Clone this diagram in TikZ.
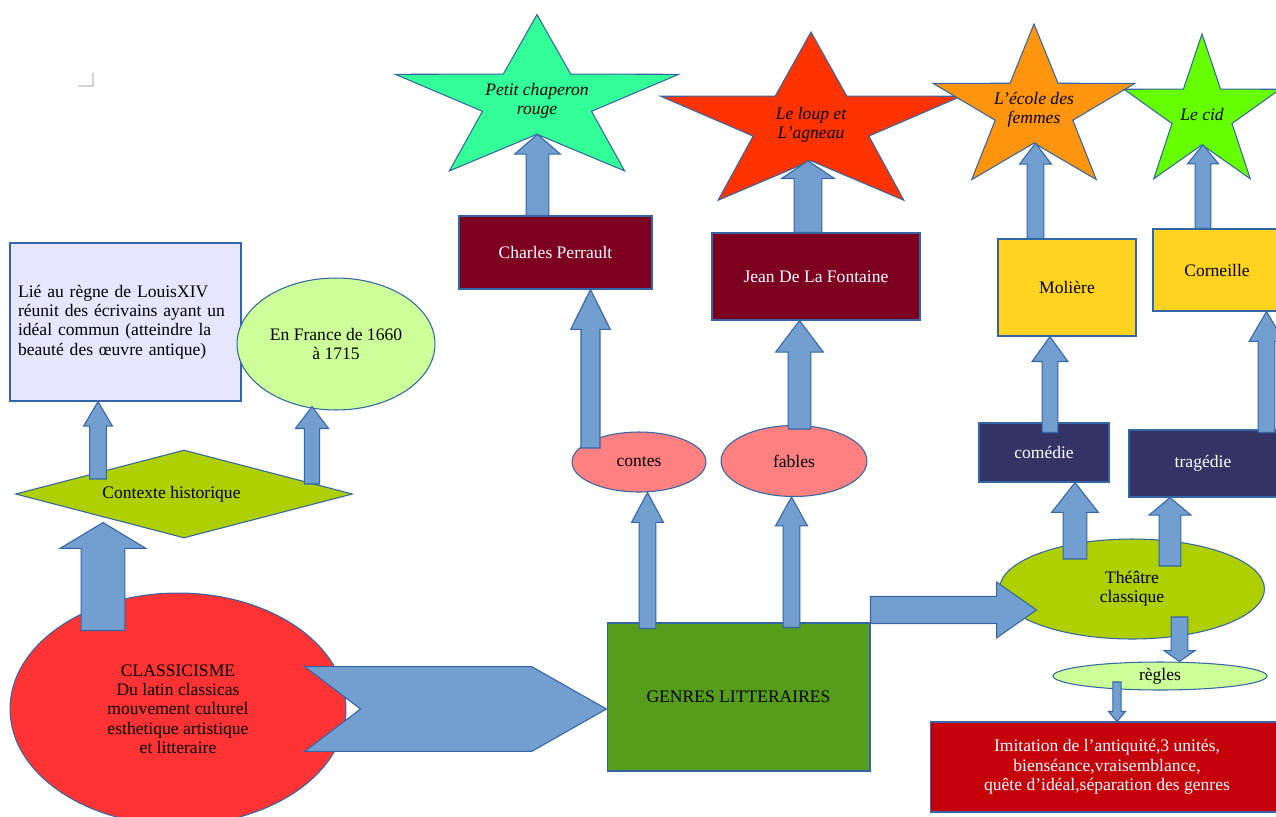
\documentclass[tikz,border=0pt]{standalone}
\usepackage{fontspec}
\setmainfont{Liberation Serif}
\usetikzlibrary{positioning, shapes.geometric, calc}

\definecolor{lineblue}{HTML}{3465A4}
\definecolor{arrowblue}{HTML}{729FCF}
\definecolor{boxlavender}{HTML}{E6E6FF}
\definecolor{lightlime}{HTML}{CCFF99}
\definecolor{ctxgreen}{HTML}{AECF00}
\definecolor{classicred}{HTML}{FF3333}
\definecolor{genresgreen}{HTML}{579D1C}
\definecolor{genrepink}{HTML}{FF8080}
\definecolor{authorred}{HTML}{7E0021}
\definecolor{kindnavy}{HTML}{333366}
\definecolor{authoryellow}{HTML}{FFD320}
\definecolor{rulesred}{HTML}{C5000B}
\definecolor{stargreen}{HTML}{33FF99}
\definecolor{starred}{HTML}{FF3300}
\definecolor{starorange}{HTML}{FF950E}
\definecolor{starlime}{HTML}{66FF00}

\tikzset{
  edged/.style={draw=lineblue, line width=0.6pt},
  blockarrow/.style={draw=lineblue, fill=arrowblue, line width=0.6pt},
  % block arrows: half shaft, half head, head length (pt)
  fatup/.style n args={3}{to path={let \p1=(\tikztostart), \p2=(\tikztotarget) in
    (\x1-#1pt,\y1) -- (\x1-#1pt,\y2-#3pt) -- (\x1-#2pt,\y2-#3pt) -- (\x1,\y2)
    -- (\x1+#2pt,\y2-#3pt) -- (\x1+#1pt,\y2-#3pt) -- (\x1+#1pt,\y1) -- cycle}},
  fatdown/.style n args={3}{to path={let \p1=(\tikztostart), \p2=(\tikztotarget) in
    (\x1-#1pt,\y1) -- (\x1-#1pt,\y2+#3pt) -- (\x1-#2pt,\y2+#3pt) -- (\x1,\y2)
    -- (\x1+#2pt,\y2+#3pt) -- (\x1+#1pt,\y2+#3pt) -- (\x1+#1pt,\y1) -- cycle}},
  fatright/.style n args={3}{to path={let \p1=(\tikztostart), \p2=(\tikztotarget) in
    (\x1,\y1+#1pt) -- (\x2-#3pt,\y1+#1pt) -- (\x2-#3pt,\y1+#2pt) -- (\x2,\y1)
    -- (\x2-#3pt,\y1-#2pt) -- (\x2-#3pt,\y1-#1pt) -- (\x1,\y1-#1pt) -- cycle}},
  notcharrow/.style n args={3}{to path={let \p1=(\tikztostart), \p2=(\tikztotarget) in
    (\x1,\y1) -- (\x1-#1pt,\y1+#2pt) -- (\x2-#3pt,\y1+#2pt) -- (\x2,\y1)
    -- (\x2-#3pt,\y1-#2pt) -- (\x1-#1pt,\y1-#2pt) -- cycle}},
}

% star: name, x, y, x radius, y radius, colour, text
\newcommand{\drawstar}[7]{%
  \filldraw[edged, fill=#6] plot[samples at={0,...,9}, variable=\k]
    ({#2+#4*cos(-90+36*\k)*(1-0.615*mod(\k,2))},{#3+#5*sin(-90+36*\k)*(1-0.615*mod(\k,2))}) -- cycle;
  \node[font=\fontsize{10}{11}\selectfont\itshape] (#1) at (#2,#3) {#7};
  \coordinate (#1-in) at (#2,{#3+0.385*#5});
}

\begin{document}
\begin{tikzpicture}[x=0.02cm, y=-0.02cm, every node/.style={font=\fontsize{10}{11}\selectfont, align=center, inner sep=0pt}]
  \useasboundingbox (0,0) rectangle (1276,816);
  \draw[gray!35, line width=0.8pt] (78,86) -- (93,86) -- (93,73);
  % Contexte
  \node[edged, minimum width=4.62cm, minimum height=3.16cm, fill=boxlavender, text width=4.3cm, align=left] (ctxbox) at (125.5,322) {Lié au règne de LouisXIV\\réunit des écrivains ayant un\\idéal commun (atteindre la\\beauté des œuvre antique)};
  \node[edged, ellipse, minimum width=3.96cm, minimum height=2.64cm, fill=lightlime] (france) at (336,344) {En France de 1660\\à 1715};
  \node[edged, diamond, aspect=3.8, minimum width=6.74cm, minimum height=1.76cm, fill=ctxgreen] (ctx) at (184,494) {Contexte historique\hspace*{0.5cm}};
  \node[edged, ellipse, minimum width=6.72cm, minimum height=4.64cm, fill=classicred] (classic) at (178,709) {CLASSICISME\\Du latin classicas\\mouvement culturel\\esthetique artistique\\et litteraire};
  \coordinate (notch) at ($(classic.east)+(14,0)$);
  % Genres
  \node[edged, minimum width=5.26cm, minimum height=2.96cm, fill=genresgreen] (genres) at (738.5,697) {GENRES LITTERAIRES};
  \node[edged, ellipse, minimum width=2.68cm, minimum height=1.2cm, fill=genrepink] (contes) at (639,462) {contes};
  \node[edged, ellipse, minimum width=2.92cm, minimum height=1.42cm, fill=genrepink] (fables) at (794,461) {fables};
  \node[edged, minimum width=3.86cm, minimum height=1.46cm, fill=authorred, text=white] (perrault) at (555.5,252.5) {Charles Perrault};
  \node[edged, minimum width=4.16cm, minimum height=1.74cm, fill=authorred, text=white] (fontaine) at (816,276.5) {Jean De La Fontaine};
  % Theatre
  \node[edged, ellipse, minimum width=5.3cm, minimum height=2cm, fill=ctxgreen] (theatre) at (1132,589) {Théâtre\\classique};
  \node[edged, minimum width=2.6cm, minimum height=1.18cm, fill=kindnavy, text=white] (comedie) at (1044,452.5) {comédie};
  \node[edged, minimum width=2.96cm, minimum height=1.34cm, fill=kindnavy, text=white] (tragedie) at (1203,463.5) {tragédie};
  \node[edged, minimum width=2.76cm, minimum height=1.94cm, fill=authoryellow] (moliere) at (1067,287.5) {Molière};
  \node[edged, minimum width=2.56cm, minimum height=1.64cm, fill=authoryellow] (corneille) at (1217,270) {Corneille};
  \node[edged, ellipse, minimum width=4.28cm, minimum height=0.56cm, fill=lightlime] (regles) at (1160,676) {règles};
  \node[edged, minimum width=7.08cm, minimum height=1.8cm, fill=rulesred, text=white] (imitation) at (1107,767) {Imitation de l'antiquité,3 unités,\\bienséance,vraisemblance,\\quête d'idéal,séparation des genres};
  % Stars
  \drawstar{chaperon}{537}{101}{149}{86.4}{stargreen}{Petit chaperon\\rouge}
  \drawstar{loup}{811}{125}{158}{93}{starred}{Le loup et\\L'agneau}
  \drawstar{ecole}{1034}{110}{106}{86}{starorange}{L'école des\\femmes}
  \drawstar{cid}{1202}{114}{82}{80}{starlime}{Le cid}
  % Arrows
  \draw[blockarrow, fatup={12.5}{24.4}{14.7}] ($(classic.north)+(-75,38)$) to ($(ctx.south)+(0,-16)$);
  \draw[blockarrow, fatup={4.8}{8.2}{14}] ($(ctx.center)+(-86,-15)$) to (ctxbox.south);
  \draw[blockarrow, fatup={4.3}{9.4}{12.5}] ($(ctx.center)+(128,-10)$) to ($(france.south)+(0,-4)$);
  \draw[blockarrow, notcharrow={31.7}{24.1}{42.5}] (notch) to (genres.west |- notch);
  \draw[blockarrow, fatup={4.8}{9.1}{17}] ($(genres.north)+(-91,6)$) to (contes.south);
  \draw[blockarrow, fatup={4.8}{9.1}{16.4}] ($(genres.north)+(53,5)$) to (fables.south);
  \draw[blockarrow, fatup={5.4}{11.3}{22.7}] ($(contes.center)+(-48.5,-14)$) to (perrault.south);
  \draw[blockarrow, fatup={6.5}{13.6}{18}] ($(fables.center)+(5.5,-32)$) to (fontaine.south);
  \draw[blockarrow, fatup={6.5}{13}{11.3}] ($(perrault.north)+(-18,0)$) to (chaperon-in);
  \draw[blockarrow, fatup={7.9}{15}{10}] ($(fontaine.north)+(-8,0)$) to (loup-in);
  \draw[blockarrow, fatup={4.8}{9.1}{12}] ($(moliere.north)+(-31.5,0)$) to (ecole-in);
  \draw[blockarrow, fatup={4.5}{8.8}{10.8}] ($(corneille.north)+(-14,0)$) to (cid-in);
  \draw[blockarrow, fatup={4.5}{10.2}{14.2}] ($(comedie.north)+(6,10)$) to (moliere.south);
  \draw[blockarrow, fatup={4.8}{9.9}{17}] ($(tragedie.north)+(63.5,3)$) to (corneille.south);
  \draw[blockarrow, fatup={6.8}{13.3}{17}] ($(theatre.center)+(-57,-30)$) to (comedie.south);
  \draw[blockarrow, fatup={6.2}{11.9}{10}] ($(theatre.center)+(38,-23)$) to (tragedie.south);
  \draw[blockarrow, fatdown={4.8}{8.8}{6.2}] ($(theatre.center)+(47.5,28)$) to (regles.north);
  \draw[blockarrow, fatdown={2.3}{4.8}{5.7}] ($(regles.center)+(-43,6)$) to (imitation.north);
  \draw[blockarrow, fatright={7.7}{15.9}{22.7}] ($(genres.north east)+(0,-12.5)$) to ($(theatre.west)+(37.5,0)$);
\end{tikzpicture}
\end{document}
